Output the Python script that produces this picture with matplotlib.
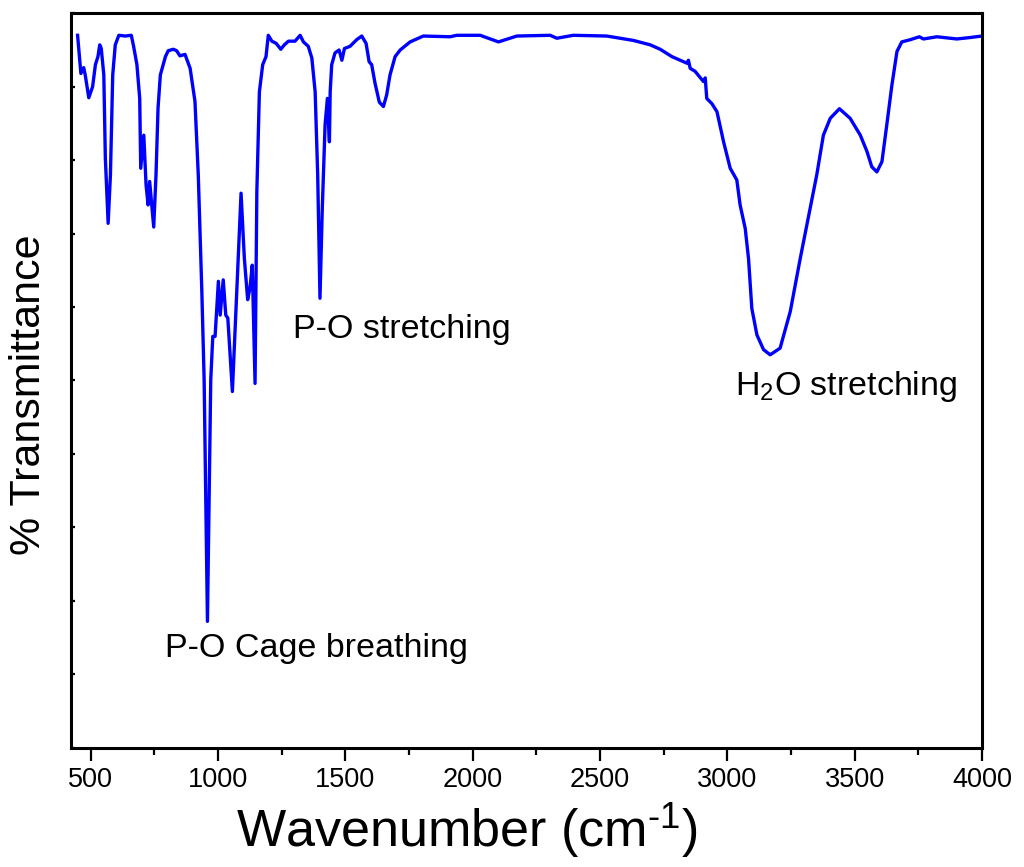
import numpy as np
import matplotlib
matplotlib.use("Agg")
import matplotlib.pyplot as plt
from matplotlib.ticker import MultipleLocator, NullFormatter

plt.rcParams['font.family'] = ['Liberation Sans', 'DejaVu Sans']
plt.rcParams['mathtext.fontset'] = 'custom'
plt.rcParams['mathtext.rm'] = 'Liberation Sans'
plt.rcParams['mathtext.it'] = 'Liberation Sans:italic'

# FTIR spectrum (wavenumber in cm-1, transmittance in %)
wavenumber = [
    448, 461, 472, 478, 492, 507, 518, 528, 535, 541, 551, 557, 568, 577,
    586, 596, 610, 635, 659, 668, 681, 692, 696, 708, 717, 725, 731, 747,
    756, 764, 773, 793, 804, 824, 837, 850, 870, 890, 909, 922, 936, 945,
    958, 971, 979, 988, 1001, 1008, 1020, 1030, 1038, 1056, 1073, 1090,
    1103, 1116, 1125, 1134, 1145, 1152, 1162, 1175, 1188, 1197, 1211, 1228,
    1246, 1260, 1276, 1302, 1322, 1335, 1354, 1368, 1381, 1391, 1400, 1409,
    1420, 1429, 1437, 1440, 1446, 1459, 1475, 1486, 1496, 1518, 1544, 1564,
    1581, 1593, 1603, 1616, 1633, 1649, 1662, 1675, 1695, 1715, 1754, 1806,
    1911, 1937, 2029, 2101, 2173, 2304, 2330, 2395, 2526, 2631, 2697, 2736,
    2782, 2841, 2847, 2854, 2873, 2906, 2913, 2919, 2939, 2959, 2985, 3011,
    3037, 3050, 3070, 3083, 3096, 3116, 3142, 3168, 3207, 3247, 3286, 3325,
    3351, 3377, 3404, 3440, 3482, 3522, 3548, 3567, 3587, 3607, 3626, 3646,
    3666, 3685, 3718, 3754, 3770, 3823, 3901, 3954, 4000,
]
transmittance = [
    97.0, 91.8, 92.6, 91.6, 88.5, 90.0, 93.0, 94.1, 95.7, 95.2, 91.6, 80.3,
    71.4, 78.0, 91.6, 95.7, 97.0, 96.9, 97.0, 95.5, 93.0, 88.4, 78.9, 83.4,
    76.6, 73.9, 77.1, 70.9, 78.0, 87.1, 91.6, 94.1, 94.9, 95.1, 94.9, 94.2,
    94.4, 92.5, 88.0, 78.0, 62.1, 50.1, 17.2, 50.1, 56.0, 56.0, 63.5, 58.9,
    63.7, 58.9, 58.5, 48.5, 62.1, 75.5, 66.6, 61.0, 62.6, 65.7, 49.6, 75.7,
    89.3, 93.0, 94.1, 97.0, 96.2, 95.9, 95.1, 95.7, 96.2, 96.2, 97.0, 96.1,
    95.5, 93.9, 89.3, 78.0, 61.2, 73.4, 84.8, 88.4, 82.5, 89.3, 93.0, 94.6,
    95.0, 93.6, 95.2, 95.5, 96.4, 96.9, 95.9, 93.4, 93.0, 90.5, 87.9, 87.3,
    88.9, 91.6, 94.1, 95.0, 96.1, 96.9, 96.8, 97.0, 97.0, 96.1, 96.9, 97.0,
    96.6, 97.0, 96.9, 96.3, 95.7, 95.1, 94.1, 93.2, 93.6, 92.5, 92.1, 90.7,
    91.2, 88.4, 87.7, 86.6, 82.5, 78.9, 77.3, 73.9, 70.7, 66.6, 59.8, 56.2,
    54.2, 53.5, 54.4, 59.4, 66.6, 73.4, 78.0, 83.4, 85.7, 87.0, 85.7, 83.4,
    81.2, 79.1, 78.4, 79.8, 84.8, 90.2, 94.8, 96.1, 96.4, 96.8, 96.5, 96.8,
    96.5, 96.7, 96.9,
]

# band assignments: (label, x, y)
bands = [
    ("P-O stretching", 1294, 55.8),
    ("P-O Cage breathing", 792, 12.4),
    (r"H$_2$O stretching", 3030, 48.0),
]

fig = plt.figure(figsize=(10.24, 8.67), dpi=100)
ax = fig.add_axes([0.0693, 0.1376, 0.8897, 0.8471])

ax.plot(wavenumber, transmittance, color="#0000ff", lw=2.4)

for label, x, y in bands:
    ax.text(x, y, label, fontsize=24.5, va="baseline", ha="left")

ax.set_xlim(422, 4000)
ax.set_ylim(0, 100)
ax.xaxis.set_major_locator(MultipleLocator(500))
ax.xaxis.set_minor_locator(MultipleLocator(250))
ax.yaxis.set_major_locator(MultipleLocator(10))
ax.yaxis.set_major_formatter(NullFormatter())

ax.tick_params(axis="x", which="major", direction="out", length=9, width=1.6,
               labelsize=19.5, pad=5)
ax.tick_params(axis="x", which="minor", direction="out", length=5, width=1.6)
ax.tick_params(axis="y", which="major", direction="in", length=3, width=1.6)
for sp in ax.spines.values():
    sp.set_linewidth(2.2)

ax.set_xlabel(r"Wavenumber (cm$^{\text{-1}}$)", fontsize=37.5)
ax.xaxis.set_label_coords(0.435, -0.072)
ax.set_ylabel("% Transmittance", fontsize=31)
ax.yaxis.set_label_coords(-0.024, 0.48)

fig.savefig("out.png", dpi=100)
